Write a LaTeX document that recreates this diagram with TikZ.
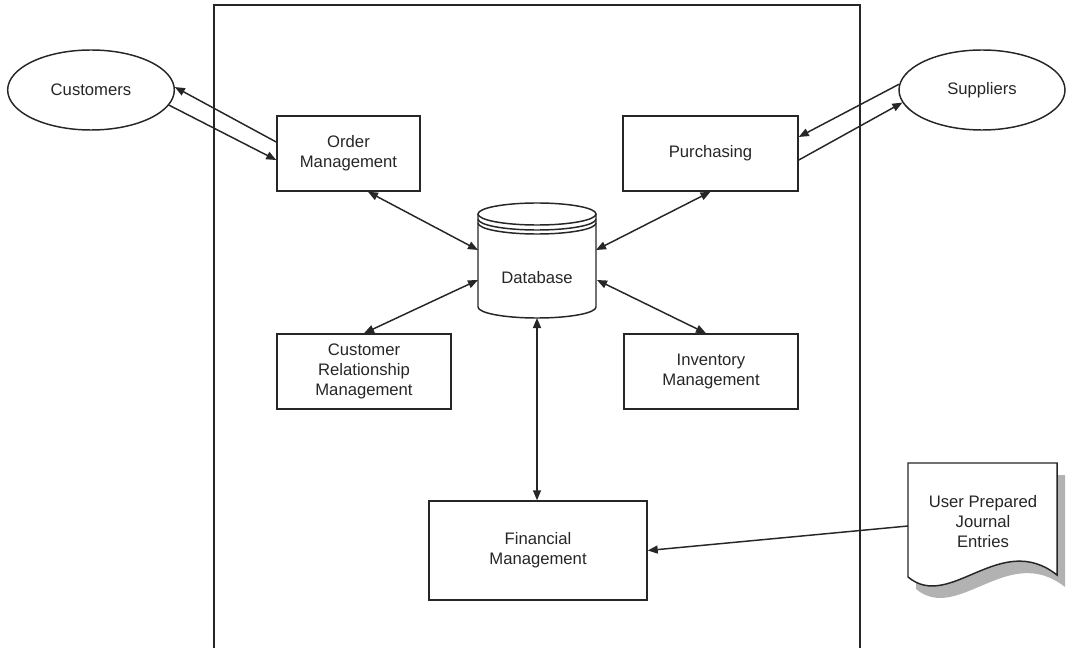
\documentclass[tikz,border=0pt]{standalone}
\usepackage{fontspec}
\setmainfont{Liberation Sans}
\usetikzlibrary{arrows.meta,shapes.geometric}
\begin{document}
\begin{tikzpicture}[x=0.75pt,y=-0.75pt,
  every node/.style={font=\fontsize{12.5}{15}\selectfont, text=black!85, align=center},
  line/.style={line width=1.1pt, draw=black!85},
  proc/.style={line, draw, rectangle, minimum height=56.25pt, inner sep=0pt},
  party/.style={line, draw, ellipse, minimum width=125pt, minimum height=60pt, inner sep=0pt},
  tip/.tip={Triangle[length=7.5pt,width=6pt]},
  flow/.style={line, -tip},
  both/.style={line, tip-tip}]
\useasboundingbox (0,0) rectangle (1066,648);

% system boundary
\draw[line, line width=1.3pt] (214,649) -- (214,5) -- (860,5) -- (860,649);

% external parties
\node[party] (cust) at (91,90) {Customers};
\node[party, minimum width=124.5pt] (sup) at (982,90) {Suppliers};

% application modules
\node[proc, minimum width=107.25pt] (om) at (348.5,153.5) {Order\\Management};
\node[proc, minimum width=131.25pt] (pur) at (710.5,153.5) {Purchasing};
\node[proc, minimum width=130.5pt] (crm) at (364,371.5) {Customer\\Relationship\\Management};
\node[proc, minimum width=130.5pt] (inv) at (711,371.5) {Inventory\\Management};
\node[proc, minimum width=163.5pt, minimum height=74.25pt] (fin) at (538,550.5) {Financial\\Management};

% database cylinder
\draw[line] (478,214) -- (478,307) arc[start angle=180, end angle=0, x radius=59, y radius=11] -- (596,214);
\draw[line] (537,214) ellipse[x radius=59, y radius=11];
\draw[line] (478,219) arc[start angle=180, end angle=0, x radius=59, y radius=11];
\draw[line] (478,223) arc[start angle=180, end angle=0, x radius=59, y radius=11];
\node (db) at (537,278) {Database};
\coordinate (dbL1) at (478,250);
\coordinate (dbL2) at (478,280);
\coordinate (dbR1) at (596,250);
\coordinate (dbR2) at (597,280);
\coordinate (dbB) at (537,318);

% journal entries document with shadow
\fill[gray!60] (916,475) -- (1065,475) -- (1065,587)
  .. controls (1008,542) and (958,624) .. (916,589) -- cycle;
\draw[line, fill=white] (908,463) -- (1057,463) -- (1057,575)
  .. controls (1000,530) and (950,612) .. (908,577) -- cycle;
\node (doc) at (983,522) {User Prepared\\Journal\\Entries};
\coordinate (docL) at (908,526);

% flows with customers and suppliers
\draw[flow] ([yshift=8.6pt]om.west) -- (cust.2);
\draw[flow] (cust.-11) -- ([yshift=-4.9pt]om.west);
\draw[flow] (sup.176) -- ([yshift=12.4pt]pur.east);
\draw[flow] ([yshift=-4.9pt]pur.east) -- (sup.189);

% links to the database
\draw[both] ([xshift=14.6pt]om.south) -- (dbL1);
\draw[both] (crm.north) -- (dbL2);
\draw[both] (pur.south) -- (dbR1);
\draw[both] ([xshift=-3.75pt]inv.north) -- (dbR2);
\draw[both] (dbB) -- (dbB |- fin.north);

% journal entries into financial management
\draw[flow] (docL) -- (fin.east);
\end{tikzpicture}
\end{document}
